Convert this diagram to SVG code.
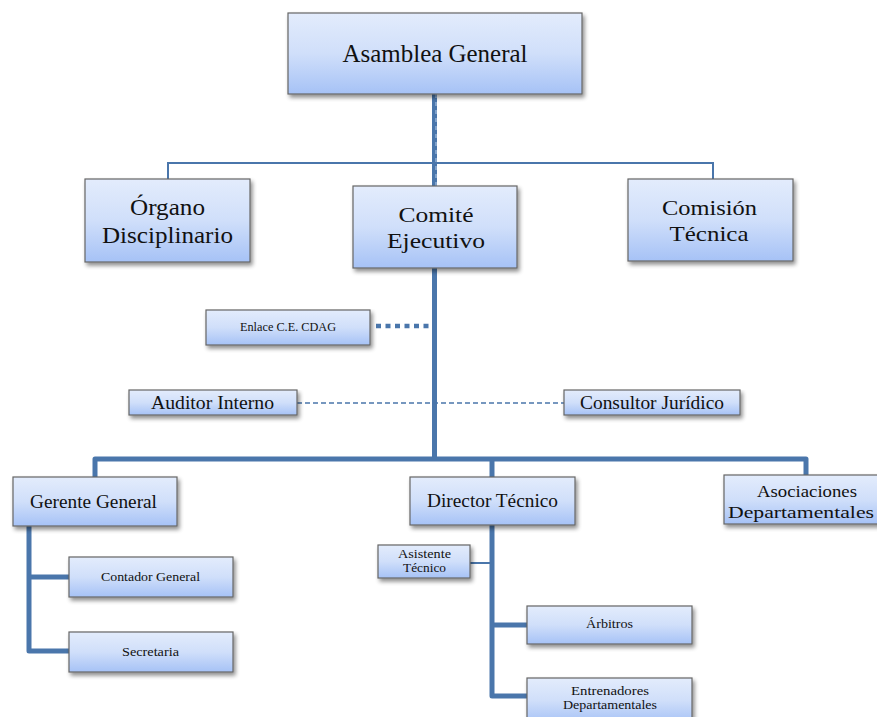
<svg xmlns="http://www.w3.org/2000/svg" width="877" height="717" viewBox="0 0 877 717">
<defs>
<linearGradient id="g" x1="0" y1="0" x2="0" y2="1">
<stop offset="0" stop-color="#e3ecfc"/>
<stop offset="0.5" stop-color="#d0dffa"/>
<stop offset="1" stop-color="#a6c2f6"/>
</linearGradient>
<filter id="sh" x="-10%" y="-10%" width="130%" height="140%">
<feGaussianBlur in="SourceAlpha" stdDeviation="2"/>
<feOffset dx="2" dy="3" result="b"/>
<feComponentTransfer><feFuncA type="linear" slope="0.45"/></feComponentTransfer>
<feMerge><feMergeNode/><feMergeNode in="SourceGraphic"/></feMerge>
</filter>
</defs>
<style>
.box{fill:url(#g);stroke:#666;stroke-width:1.2;filter:url(#sh)}
.t{font-family:"Liberation Serif","DejaVu Serif",serif;fill:#111;text-anchor:middle}
.thick{stroke:#4a76ab;stroke-width:5;fill:none;stroke-linejoin:round}
.thin{stroke:#4a76ab;stroke-width:2;fill:none}
</style>
<rect width="877" height="717" fill="#fff"/>
<g id="connectors">
<line class="thin" x1="168" y1="163" x2="713" y2="163"/>
<line class="thin" x1="168" y1="162" x2="168" y2="179"/>
<line class="thin" x1="713" y1="162" x2="713" y2="179"/>
<line class="thick" x1="434.5" y1="94" x2="434.5" y2="186"/>
<line x1="436" y1="94" x2="436" y2="186" stroke="#a8c0e0" stroke-width="1.2" stroke-dasharray="4,4"/>
<line class="thick" x1="434.5" y1="268" x2="434.5" y2="459"/>
<line x1="376" y1="326" x2="432" y2="326" stroke="#4a76ab" stroke-width="4.5" stroke-dasharray="5,4.5"/>
<line x1="297" y1="403" x2="564" y2="403" stroke="#4a76ab" stroke-width="1.5" stroke-dasharray="5,3"/>
<polyline class="thick" points="95,477 95,459 806,459 806,475"/>
<line class="thick" x1="492" y1="459" x2="492" y2="477"/>
<polyline class="thick" points="29,526 29,651 69,651"/>
<line class="thick" x1="29" y1="577" x2="69" y2="577"/>
<polyline class="thick" points="492,525 492,696 527,696"/>
<line class="thick" x1="492" y1="625" x2="527" y2="625"/>
<line class="thin" x1="470" y1="563" x2="492" y2="563"/>
</g>
<g id="asamblea"><rect class="box" x="288" y="13" width="294" height="81"/><text class="t" x="435" y="62" font-size="26" textLength="185" lengthAdjust="spacingAndGlyphs">Asamblea General</text></g>
<g id="organo"><rect class="box" x="85" y="179" width="165" height="83"/><text class="t" x="167.5" y="215" font-size="23.5" textLength="75" lengthAdjust="spacingAndGlyphs">Órgano</text><text class="t" x="167.5" y="243" font-size="23.5" textLength="131" lengthAdjust="spacingAndGlyphs">Disciplinario</text></g>
<g id="comite"><rect class="box" x="353" y="186" width="164" height="82"/><text class="t" x="436" y="222" font-size="22" textLength="75" lengthAdjust="spacingAndGlyphs">Comité</text><text class="t" x="436" y="248" font-size="22" textLength="98" lengthAdjust="spacingAndGlyphs">Ejecutivo</text></g>
<g id="comision"><rect class="box" x="628" y="179" width="165" height="82"/><text class="t" x="709.5" y="215" font-size="22" textLength="95" lengthAdjust="spacingAndGlyphs">Comisión</text><text class="t" x="709" y="241" font-size="22" textLength="79" lengthAdjust="spacingAndGlyphs">Técnica</text></g>
<g id="enlace"><rect class="box" x="206" y="310" width="164" height="35"/><text class="t" x="288" y="331" font-size="12.5" textLength="96" lengthAdjust="spacingAndGlyphs">Enlace C.E. CDAG</text></g>
<g id="auditor"><rect class="box" x="129" y="390" width="168" height="25"/><text class="t" x="212.5" y="409" font-size="19" textLength="123" lengthAdjust="spacingAndGlyphs">Auditor Interno</text></g>
<g id="consultor"><rect class="box" x="564" y="390" width="176" height="25"/><text class="t" x="652" y="409" font-size="19" textLength="144" lengthAdjust="spacingAndGlyphs">Consultor Jurídico</text></g>
<g id="gerente"><rect class="box" x="13" y="477" width="164" height="49"/><text class="t" x="93.5" y="508" font-size="19" textLength="127" lengthAdjust="spacingAndGlyphs">Gerente General</text></g>
<g id="director"><rect class="box" x="410" y="477" width="165" height="48"/><text class="t" x="492.5" y="507" font-size="19" textLength="131" lengthAdjust="spacingAndGlyphs">Director Técnico</text></g>
<g id="asociaciones"><rect class="box" x="724" y="475" width="156" height="49"/><text class="t" x="807" y="497" font-size="17" textLength="100" lengthAdjust="spacingAndGlyphs">Asociaciones</text><text class="t" x="801" y="518" font-size="17" textLength="146" lengthAdjust="spacingAndGlyphs">Departamentales</text></g>
<g id="contador"><rect class="box" x="69" y="557" width="164" height="40"/><text class="t" x="150.5" y="581" font-size="13.5" textLength="99" lengthAdjust="spacingAndGlyphs">Contador General</text></g>
<g id="secretaria"><rect class="box" x="69" y="632" width="164" height="40"/><text class="t" x="150.5" y="656" font-size="13.5" textLength="57" lengthAdjust="spacingAndGlyphs">Secretaria</text></g>
<g id="asistente"><rect class="box" x="378" y="545" width="92" height="33"/><text class="t" x="424.5" y="558" font-size="11.5" textLength="53" lengthAdjust="spacingAndGlyphs">Asistente</text><text class="t" x="424.5" y="572" font-size="11.5" textLength="43" lengthAdjust="spacingAndGlyphs">Técnico</text></g>
<g id="arbitros"><rect class="box" x="527" y="606" width="165" height="38"/><text class="t" x="609.5" y="628" font-size="13.5" textLength="47" lengthAdjust="spacingAndGlyphs">Árbitros</text></g>
<g id="entrenadores"><rect class="box" x="527" y="678" width="165" height="45"/><text class="t" x="610" y="695" font-size="12" textLength="78" lengthAdjust="spacingAndGlyphs">Entrenadores</text><text class="t" x="610" y="709" font-size="12" textLength="94" lengthAdjust="spacingAndGlyphs">Departamentales</text></g>
</svg>
